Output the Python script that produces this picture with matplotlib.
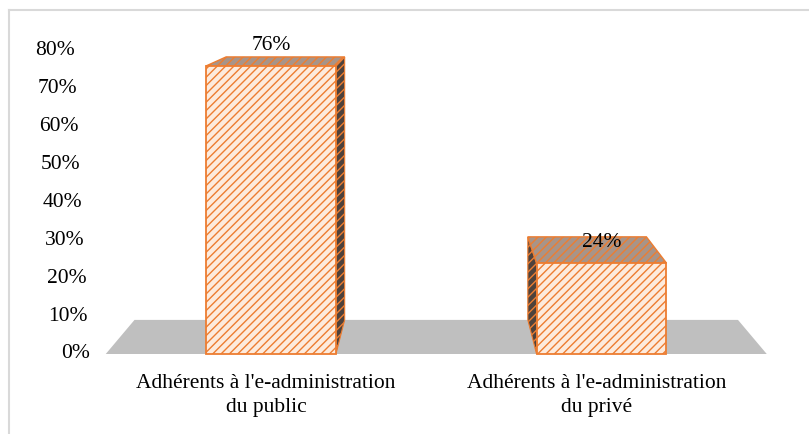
import matplotlib
matplotlib.use('Agg')
import matplotlib.pyplot as plt
from matplotlib.patches import Polygon
from matplotlib.lines import Line2D
import numpy as np

categories = ["Adhérents à l'e-administration\ndu public",
              "Adhérents à l'e-administration\ndu privé"]
values = [76, 24]
value_labels = ["76%", "24%"]
yticks = [0, 10, 20, 30, 40, 50, 60, 70, 80]
ytick_labels = [f"{v}%" for v in yticks]

plt.rcParams['font.family'] = ['Liberation Serif', 'DejaVu Serif']
plt.rcParams['hatch.linewidth'] = 1.0

W, H = 809, 434
fig = plt.figure(figsize=(W / 100, H / 100), dpi=100)
ax = fig.add_axes([0, 0, 1, 1])

# pixel layout of the plot area
x0_px, unit_px = 271, 330.5          # category 0 centre, px per category
y0_px, pct_px = 354, 3.79            # 0% line (from top), px per percent
ax.set_xlim(-x0_px / unit_px, (W - x0_px) / unit_px)
ax.set_ylim(-(H - y0_px) / pct_px, y0_px / pct_px)
ax.axis('off')

# perspective projection toward the back
vp = np.array([0.5, 103.4])
s = 0.913


def back(x, y):
    return (vp[0] + s * (x - vp[0]), vp[1] + s * (y - vp[1]))


orange = '#ED7D31'
n = len(values)
pos = np.arange(n)
width = 0.393
fs = 15.5

# floor
fl, fr = -0.5, n - 0.5
floor = Polygon([(fl, 0), (fr, 0), back(fr, 0), back(fl, 0)], closed=True,
                facecolor='#BFBFBF', edgecolor='none', zorder=1)
ax.add_patch(floor)

# bars
for p, v in zip(pos, values):
    l, r = p - width / 2, p + width / 2
    e = r if p < vp[0] else l
    side = Polygon([(e, 0), (e, v), back(e, v), back(e, 0)], closed=True,
                   facecolor='#4E423C', edgecolor=orange, hatch='////',
                   lw=0.8, zorder=2)
    ax.add_patch(side)
    top = Polygon([(l, v), (r, v), back(r, v), back(l, v)], closed=True,
                  facecolor='#A89488', edgecolor=orange, hatch='////',
                  lw=1.0, zorder=3)
    ax.add_patch(top)

ax.bar(pos, values, width=width, facecolor='#FDEBDD', edgecolor=orange,
       hatch='////', lw=1.3, zorder=4)

# value labels
for p, v, t in zip(pos, values, value_labels):
    ax.text(p, v + 5.5, t, ha='center', va='center', fontsize=fs, zorder=6)

# y tick labels (slanted alignment like the original)
for v, t in zip(yticks, ytick_labels):
    xr_px = 90 - 15 * v / 80
    ax.text((xr_px - x0_px) / unit_px, v, t, ha='right', va='center',
            fontsize=fs)

# category labels
for p, c in zip(pos, categories):
    ax.text(p - 0.015, -5.4, c, ha='center', va='top', fontsize=fs,
            linespacing=1.3)

# chart frame (left and top edges visible)
fx = 9 / W
fy = 1 - 10 / H
fig.add_artist(Line2D([fx, fx], [0, fy], transform=fig.transFigure,
                      color='#D9D9D9', lw=1.5))
fig.add_artist(Line2D([fx, 1], [fy, fy], transform=fig.transFigure,
                      color='#D9D9D9', lw=1.5))

fig.savefig('out.png', dpi=100)
